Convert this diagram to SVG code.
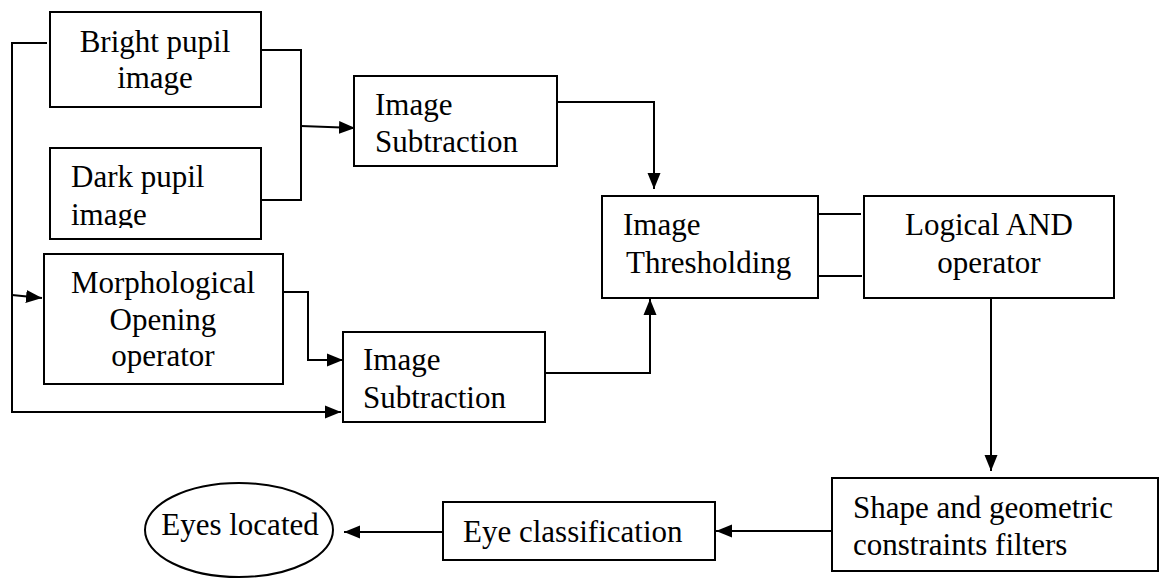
<svg xmlns="http://www.w3.org/2000/svg" width="1160" height="579" viewBox="0 0 1160 579">
<style>
.box{fill:#fff;stroke:#000;stroke-width:2}
.ln{fill:none;stroke:#000;stroke-width:2}
.t{font-family:'Liberation Serif','Times New Roman',serif;font-size:31px;fill:#000}
.c{text-anchor:middle}
</style>
<defs>
<marker id="ah" markerUnits="userSpaceOnUse" markerWidth="16" markerHeight="14" refX="16" refY="7" orient="auto">
<path d="M0,0.5 L16,7 L0,13.5 z" fill="#000"/>
</marker>
<clipPath id="clipDark"><rect x="50" y="148" width="212" height="80"/></clipPath>
</defs>
<rect width="1160" height="579" fill="#fff"/>
<g id="connectors">
<path class="ln" d="M47,43 H12 V412 H341" marker-end="url(#ah)"/>
<path class="ln" d="M12,295 L42,298" marker-end="url(#ah)"/>
<path class="ln" d="M262,50 H301 V200 H262"/>
<path class="ln" d="M301,126 L355,128" marker-end="url(#ah)"/>
<path class="ln" d="M557,102 H654 V189" marker-end="url(#ah)"/>
<path class="ln" d="M283,292 H308 V360 H343" marker-end="url(#ah)"/>
<path class="ln" d="M545,373 H650 V299" marker-end="url(#ah)"/>
<path class="ln" d="M819,214 H861"/>
<path class="ln" d="M819,276 H862"/>
<path class="ln" d="M991,298 V471" marker-end="url(#ah)"/>
<path class="ln" d="M832,531 H716" marker-end="url(#ah)"/>
<path class="ln" d="M443,532 H344" marker-end="url(#ah)"/>
</g>
<g id="bright">
<rect class="box" x="50" y="12" width="211" height="95"/>
<text class="t c" x="155" y="52">Bright pupil</text>
<text class="t c" x="155" y="88">image</text>
</g>
<g id="dark">
<rect class="box" x="50" y="148" width="211" height="91"/>
<text class="t" x="71" y="187">Dark pupil</text>
<text class="t" x="71" y="225" clip-path="url(#clipDark)">image</text>
</g>
<g id="sub1">
<rect class="box" x="354" y="76" width="203" height="90"/>
<text class="t" x="375" y="115">Image</text>
<text class="t" x="375" y="152">Subtraction</text>
</g>
<g id="morph">
<rect class="box" x="44" y="254" width="239" height="130"/>
<text class="t c" x="163" y="293">Morphological</text>
<text class="t c" x="163" y="330">Opening</text>
<text class="t c" x="163" y="366">operator</text>
</g>
<g id="sub2">
<rect class="box" x="343" y="332" width="202" height="90"/>
<text class="t" x="363" y="370">Image</text>
<text class="t" x="363" y="408">Subtraction</text>
</g>
<g id="thresh">
<rect class="box" x="602" y="196" width="216" height="102"/>
<text class="t" x="623" y="235">Image</text>
<text class="t" x="626" y="273">Thresholding</text>
</g>
<g id="and">
<rect class="box" x="864" y="196" width="250" height="102"/>
<text class="t c" x="989" y="235">Logical AND</text>
<text class="t c" x="989" y="273">operator</text>
</g>
<g id="shape">
<rect class="box" x="832" y="478" width="326" height="93"/>
<text class="t" x="853" y="518">Shape and geometric</text>
<text class="t" x="853" y="555">constraints filters</text>
</g>
<g id="eyeclass">
<rect class="box" x="443" y="502" width="272" height="58"/>
<text class="t" x="463" y="542">Eye classification</text>
</g>
<g id="located">
<ellipse class="box" cx="239" cy="530" rx="94" ry="47"/>
<text class="t c" x="240" y="535">Eyes located</text>
</g>
</svg>
